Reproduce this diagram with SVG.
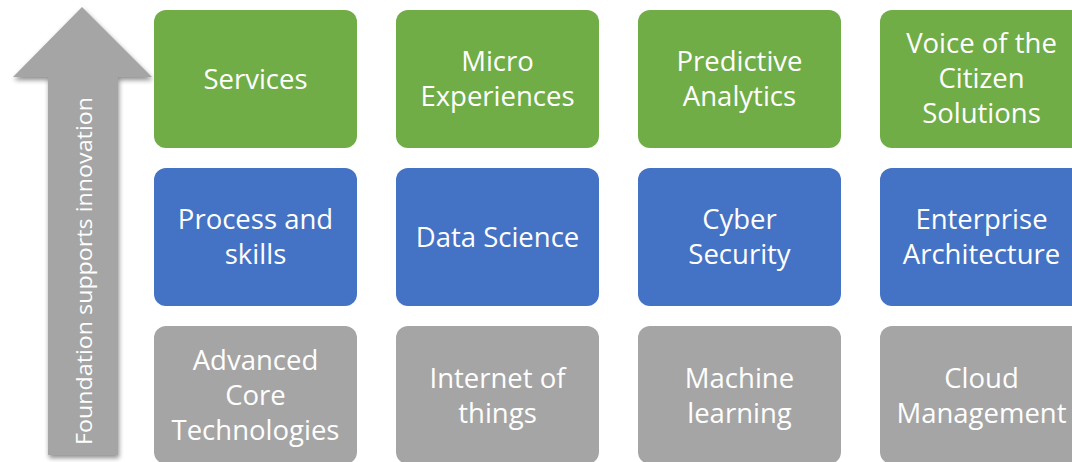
<svg xmlns="http://www.w3.org/2000/svg" width="1072" height="462" viewBox="0 0 1072 462">
<style>
.g{fill:#70ad47}.b{fill:#4472c4}.r{fill:#a5a5a5}
text{font-family:"Open Sans","Liberation Sans",sans-serif;font-size:27.5px;fill:#fff;text-anchor:middle}
</style>
<defs>
<filter id="sh" x="-20%" y="-5%" width="140%" height="110%">
<feGaussianBlur in="SourceAlpha" stdDeviation="2.5"/>
<feOffset dx="1" dy="3" result="o"/>
<feComponentTransfer><feFuncA type="linear" slope="0.45"/></feComponentTransfer>
<feMerge><feMergeNode/><feMergeNode in="SourceGraphic"/></feMerge>
</filter>
</defs>
<g id="arrow">
<path d="M82 7 L152 77 L118 77 L118 455 L48 455 L48 77 L13 77 Z" fill="#a5a5a5" filter="url(#sh)"/>
<text transform="translate(92 271) rotate(-90)" style="font-size:22px" textLength="348" lengthAdjust="spacingAndGlyphs">Foundation supports innovation</text>
</g>
<g id="services"><rect class="g" x="154" y="10" width="203" height="138" rx="12"/><text x="255.5" y="89">Services</text></g>
<g id="micro"><rect class="g" x="396" y="10" width="203" height="138" rx="12"/><text x="497.5" y="71">Micro</text><text x="497.5" y="106">Experiences</text></g>
<g id="predictive"><rect class="g" x="638" y="10" width="203" height="138" rx="12"/><text x="739.5" y="71">Predictive</text><text x="739.5" y="106">Analytics</text></g>
<g id="voice"><rect class="g" x="880" y="10" width="203" height="138" rx="12"/><text x="981.5" y="53">Voice of the</text><text x="981.5" y="88">Citizen</text><text x="981.5" y="123">Solutions</text></g>
<g id="process"><rect class="b" x="154" y="168" width="203" height="138" rx="12"/><text x="255.5" y="229">Process and</text><text x="255.5" y="264">skills</text></g>
<g id="datascience"><rect class="b" x="396" y="168" width="203" height="138" rx="12"/><text x="497.5" y="247">Data Science</text></g>
<g id="cyber"><rect class="b" x="638" y="168" width="203" height="138" rx="12"/><text x="739.5" y="229">Cyber</text><text x="739.5" y="264">Security</text></g>
<g id="enterprise"><rect class="b" x="880" y="168" width="203" height="138" rx="12"/><text x="981.5" y="229">Enterprise</text><text x="981.5" y="264">Architecture</text></g>
<g id="advanced"><rect class="r" x="154" y="326" width="203" height="138" rx="12"/><text x="255.5" y="370">Advanced</text><text x="255.5" y="405">Core</text><text x="255.5" y="440">Technologies</text></g>
<g id="iot"><rect class="r" x="396" y="326" width="203" height="138" rx="12"/><text x="497.5" y="388">Internet of</text><text x="497.5" y="423">things</text></g>
<g id="ml"><rect class="r" x="638" y="326" width="203" height="138" rx="12"/><text x="739.5" y="388">Machine</text><text x="739.5" y="423">learning</text></g>
<g id="cloud"><rect class="r" x="880" y="326" width="203" height="138" rx="12"/><text x="981.5" y="388">Cloud</text><text x="981.5" y="423">Management</text></g>
<g id="connectors"/>
</svg>
